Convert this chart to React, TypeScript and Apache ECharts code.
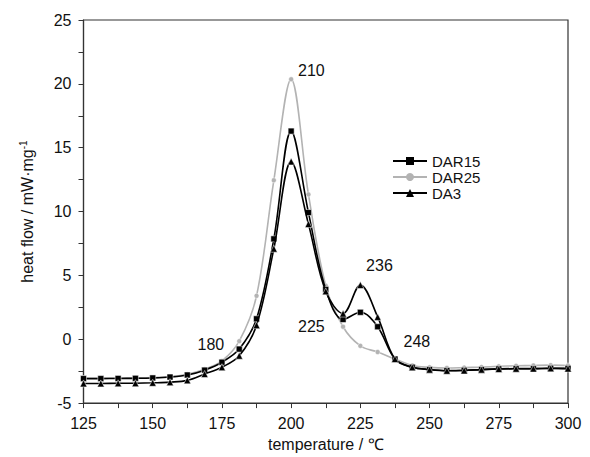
import React, { useEffect, useRef } from "react";
import * as echarts from "echarts";

const temps = [
  125, 131.25, 137.5, 143.75, 150, 156.25, 162.5, 168.75, 175, 181.25, 187.5, 193.75,
  200, 206.25, 212.5, 218.75, 225, 231.25, 237.5, 243.75, 250, 256.25, 262.5, 268.75,
  275, 281.25, 287.5, 293.75, 300,
];
const dar15 = [
  -3.08, -3.08, -3.07, -3.06, -3.03, -2.96, -2.8, -2.42, -1.8, -0.77, 1.6, 7.86,
  16.3, 9.92, 3.9, 1.55, 2.11, 0.98, -1.55, -2.19, -2.37, -2.45, -2.43, -2.37,
  -2.32, -2.3, -2.3, -2.27, -2.28,
];
const dar25 = [
  -3.05, -3.05, -3.04, -3.03, -3.0, -2.92, -2.74, -2.35, -1.7, -0.15, 3.4, 12.45,
  20.36, 11.34, 4.2, 0.98, -0.52, -1.0, -1.55, -2.05, -2.2, -2.25, -2.22, -2.18,
  -2.12, -2.08, -2.05, -2.03, -2.05,
];
const da3 = [
  -3.46, -3.46, -3.45, -3.44, -3.41, -3.36, -3.22, -2.72, -2.19, -1.29, 1.1, 7.09,
  13.92, 9.02, 3.75, 2.01, 4.25, 1.75, -1.55, -2.2, -2.38, -2.47, -2.45, -2.38,
  -2.33, -2.31, -2.3, -2.28, -2.3,
];
const annotations = [
  { text: "210", x: 207.3, y: 21.06 },
  { text: "180", x: 171.0, y: -0.44 },
  { text: "225", x: 207.3, y: 1.03 },
  { text: "236", x: 231.9, y: 5.75 },
  { text: "248", x: 245.4, y: -0.21 },
];
const xTicks = { min: 125, max: 300, interval: 25 };
const yTicks = { min: -5, max: 25, interval: 5 };

const FONT = "'Liberation Sans', Arial, sans-serif";

export default function App() {
  const ref = useRef<HTMLDivElement>(null);
  useEffect(() => {
    if (!ref.current) return;
    const chart = echarts.init(ref.current, null, { renderer: "svg" });
    const pair = (arr: number[]) => temps.map((t, i) => [t, arr[i]]);
    const axisCommon = {
      axisLine: { show: true, lineStyle: { color: "#333", width: 1.2 } },
      axisTick: { show: true, inside: false, length: 5, lineStyle: { color: "#333" } },
      minorTick: { show: true, splitNumber: 2, length: 5, lineStyle: { color: "#333" } },
      splitLine: { show: false },
      axisLabel: { color: "#111", fontSize: 16, fontFamily: FONT },
      nameTextStyle: { color: "#111", fontSize: 16, fontFamily: FONT },
    };
    chart.setOption({
      animation: false,
      backgroundColor: "#fff",
      grid: {
        left: 83.5,
        right: 22,
        top: 20,
        bottom: 49,
        show: true,
        borderColor: "#333",
        borderWidth: 1.2,
        backgroundColor: "transparent",
      },
      legend: {
        data: ["DAR15", "DAR25", "DA3"],
        orient: "vertical",
        left: 392,
        top: 153,
        padding: 0,
        itemWidth: 34,
        itemHeight: 10,
        itemGap: 0,
        itemStyle: { borderWidth: 0 },
        textStyle: { color: "#111", fontSize: 15, fontFamily: FONT, lineHeight: 16 },
      },
      xAxis: {
        type: "value",
        ...xTicks,
        ...axisCommon,
        axisLine: { ...axisCommon.axisLine, onZero: false },
        axisLabel: { ...axisCommon.axisLabel, margin: 12 },
        name: "temperature / ℃",
        nameLocation: "middle",
        nameGap: 27,
      },
      yAxis: {
        type: "value",
        ...yTicks,
        ...axisCommon,
        axisLabel: { ...axisCommon.axisLabel, margin: 12 },
        name: "heat flow / mW·mg{sup|-1}",
        nameLocation: "middle",
        nameGap: 47,
        nameTextStyle: {
          ...axisCommon.nameTextStyle,
          rich: { sup: { fontSize: 10, verticalAlign: "top", padding: [0, 0, 8, 0], fontFamily: FONT, color: "#111" } },
        },
      },
      series: [
        {
          name: "DAR25",
          type: "line",
          data: pair(dar25),
          smooth: 0.35,
          symbol: "circle",
          symbolSize: 5,
          lineStyle: { color: "#b3b3b3", width: 1.6 },
          itemStyle: { color: "#b3b3b3", borderColor: "#fff", borderWidth: 0.5 },
          z: 2,
        },
        {
          name: "DAR15",
          type: "line",
          data: pair(dar15),
          smooth: 0.35,
          symbol: "rect",
          symbolSize: 6,
          lineStyle: { color: "#000", width: 1.6 },
          itemStyle: { color: "#000", borderColor: "#fff", borderWidth: 0.5 },
          z: 3,
        },
        {
          name: "DA3",
          type: "line",
          data: pair(da3),
          smooth: 0.35,
          symbol: "triangle",
          symbolSize: 7,
          lineStyle: { color: "#000", width: 1.6 },
          itemStyle: { color: "#000", borderColor: "#fff", borderWidth: 0.5 },
          z: 4,
        },
        {
          name: "annotations",
          type: "scatter",
          data: annotations.map((a) => ({ value: [a.x, a.y], name: a.text })),
          symbolSize: 0,
          silent: true,
          itemStyle: { opacity: 1 },
          label: {
            show: true,
            position: "inside",
            formatter: (p: any) => p.name,
            color: "#111",
            opacity: 1,
            fontSize: 16,
            fontFamily: FONT,
          },
          z: 5,
        },
      ],
    });
    return () => chart.dispose();
  }, []);
  return (
    <div
      ref={ref}
      style={{ position: "absolute", left: 0, top: 0, width: 590, height: 457 }}
    />
  );
}
